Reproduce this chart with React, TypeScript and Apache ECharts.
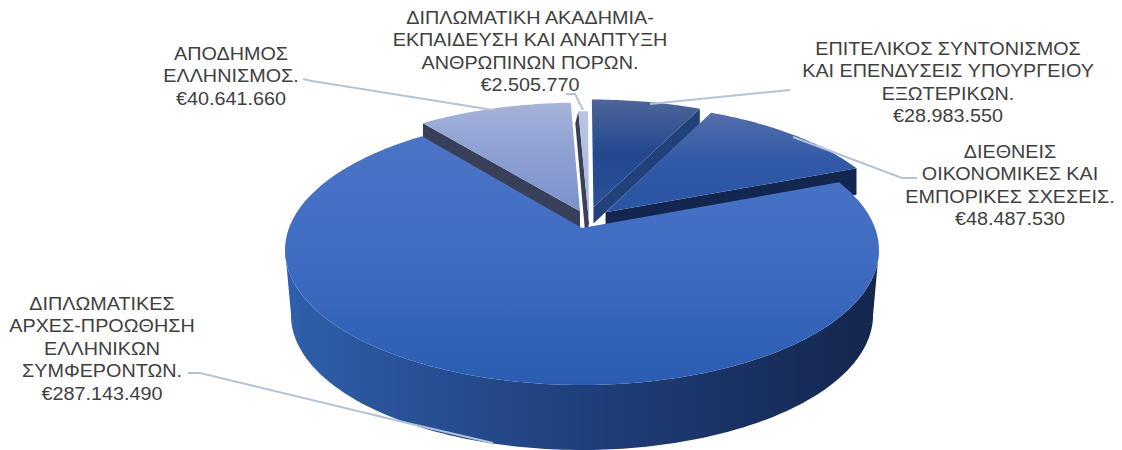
import React, { useEffect, useRef } from "react";
import * as echarts from "echarts";

const categories = [
  "ΕΠΙΤΕΛΙΚΟΣ ΣΥΝΤΟΝΙΣΜΟΣ\nΚΑΙ ΕΠΕΝΔΥΣΕΙΣ ΥΠΟΥΡΓΕΙΟΥ\nΕΞΩΤΕΡΙΚΩΝ.",
  "ΔΙΕΘΝΕΙΣ\nΟΙΚΟΝΟΜΙΚΕΣ ΚΑΙ\nΕΜΠΟΡΙΚΕΣ ΣΧΕΣΕΙΣ.",
  "ΔΙΠΛΩΜΑΤΙΚΕΣ\nΑΡΧΕΣ-ΠΡΟΩΘΗΣΗ\nΕΛΛΗΝΙΚΩΝ\nΣΥΜΦΕΡΟΝΤΩΝ.",
  "ΑΠΟΔΗΜΟΣ\nΕΛΛΗΝΙΣΜΟΣ.",
  "ΔΙΠΛΩΜΑΤΙΚΗ ΑΚΑΔΗΜΙΑ-\nΕΚΠΑΙΔΕΥΣΗ ΚΑΙ ΑΝΑΠΤΥΞΗ\nΑΝΘΡΩΠΙΝΩΝ ΠΟΡΩΝ.",
];
const values = [28983550, 48487530, 287143490, 40641660, 2505770];

// Layout of the projection and of each slice (not data)
const CX = 582, CY = 228, A = 293, B = 131.4, K = 0.163;
const WALL_DEPTH = 65;
const offsets: [number, number][] = [[0.04, 0.163], [0.082, 0.122], [0, 0], [-0.007, 0.13], [0.024, 0.04]];
const drawRank = [3, 4, 5, 1, 2];
const cutSide = ["end", "end", null, "start", "start"];
const cutShift = [0, 0, 0, 0, -3];
const topStops = [
  ["#4e6599", "#23488f", "#2a5099"],
  ["#546ea9", "#3159a8", "#2a55a3"],
  ["#4c74c6", "#3f6cc2", "#2a5db2"],
  ["#a6b3d9", "#8c9fd3", "#7a92cb"],
  ["#bcc6e3", "#b0bcdd", "#a6b4d9"],
];
const cutColor = ["#22407a", "#12264f", "#14264c", "#383f58", "#3a4058"];
const wallStops = ["#2f5fab", "#1f3f7c", "#14264c"];
const labelPos = [[948, 37], [1010, 140], [102, 292], [231, 42], [530, 6]];
const leaders = [
  [[790, 90], [650, 104]],
  [[917, 178], [902, 178], [793, 137]],
  [[188, 373], [200, 373], [403, 422], [493, 443]],
  [[303, 79], [312, 81], [493, 110]],
  [[566, 94], [575, 94], [583, 110]],
];

const fmt = (v: number) => "€" + String(v).replace(/\B(?=(\d{3})+$)/g, ".");

function top(u: number, v: number): number[] {
  const w = 1 + K * v;
  return [CX + (A * u) / w, CY - (B * v) / w];
}
function cutDepth(u: number, v: number) {
  return 12 + 14 * u * u + 26.7 * Math.pow(Math.max(0, 0.45 - v), 1.46);
}
function cutBottom(u: number, v: number, shift: number): number[] {
  const p = top(u, v);
  return [p[0] + shift, p[1] + cutDepth(u, v)];
}
function wallBottom(u: number, v: number): number[] {
  const p = top(u, v);
  return [CX + (p[0] - CX) * 0.98, p[1] + WALL_DEPTH];
}

export default function App() {
  const ref = useRef<HTMLDivElement>(null);
  useEffect(() => {
    document.body.style.margin = "0";
    const chart = echarts.init(ref.current!, undefined, { renderer: "svg" });
    const total = values.reduce((a, b) => a + b, 0);
    const grad = (stops: string[], horizontal = false) =>
      new echarts.graphic.LinearGradient(0, 0, horizontal ? 1 : 0, horizontal ? 0 : 1, stops.map((color, i) => ({ offset: i / (stops.length - 1), color })));

    const renderItem = (params: any, api: any) => {
      const i = params.dataIndex;
      const val = api.value(0);
      let before = 0;
      for (let k = 0; k < i; k++) before += values[k];
      const a0 = (before / total) * Math.PI * 2;
      const a1 = ((before + val) / total) * Math.PI * 2;
      const [du, dv] = offsets[i];
      const at = (a: number): [number, number] => [Math.sin(a) + du, Math.cos(a) + dv];
      const n = Math.max(2, Math.ceil((a1 - a0) / (Math.PI / 180)));
      const arc: [number, number][] = [];
      for (let k = 0; k <= n; k++) arc.push(at(a0 + ((a1 - a0) * k) / n));
      const z = drawRank[i] * 10;
      const children: any[] = [];
      if (cutSide[i]) {
        const e = at(cutSide[i] === "end" ? a1 : a0);
        children.push({
          type: "polygon",
          z2: z,
          shape: { points: [top(du, dv), top(e[0], e[1]), cutBottom(e[0], e[1], cutShift[i]), cutBottom(du, dv, cutShift[i])] },
          style: { fill: cutColor[i] },
        });
      } else {
        // The wall is swept from the widest point on the right round the front to the widest on the left.
        const xs = arc.map((p) => top(p[0], p[1])[0]);
        const iR = xs.indexOf(Math.max(...xs));
        const iL = xs.indexOf(Math.min(...xs));
        const front = arc.slice(iR, iL + 1);
        const pts = front.map((p) => top(p[0], p[1])).concat(front.slice().reverse().map((p) => wallBottom(p[0], p[1])));
        children.push({
          type: "polygon",
          z2: z,
          shape: { points: pts },
          style: { fill: grad(wallStops, true) },
        });
      }
      children.push({
        type: "polygon",
        z2: z + 1,
        shape: { points: [top(du, dv)].concat(arc.map((p) => top(p[0], p[1]))) },
        style: { fill: grad(topStops[i]) },
      });
      return { type: "group", children };
    };

    const labels = categories.map((name, i) => ({
      type: "text",
      z: 20,
      x: labelPos[i][0],
      y: labelPos[i][1],
      scaleX: 1.07,
      style: {
        text: name + "\n" + fmt(values[i]),
        x: 0,
        y: 0,
        align: "center",
        verticalAlign: "top",
        fill: "#404040",
        font: '18.5px "Liberation Sans", Arial, sans-serif',
        lineHeight: 22.5,
      },
    }));
    const lines = leaders.map((points) => ({
      type: "polyline",
      z: 15,
      shape: { points },
      style: { stroke: "#b4c2d6", lineWidth: 2, fill: "none" },
    }));

    chart.setOption({
      animation: false,
      backgroundColor: "#ffffff",
      series: [
        {
          type: "custom",
          coordinateSystem: "none",
          renderItem,
          silent: true,
          data: values.map((v, i) => ({ name: categories[i], value: [v] })),
        },
      ],
      graphic: { elements: [...lines, ...labels] },
    });
    return () => chart.dispose();
  }, []);
  return <div ref={ref} style={{ position: "fixed", left: 0, top: 0, width: 1122, height: 450 }} />;
}
